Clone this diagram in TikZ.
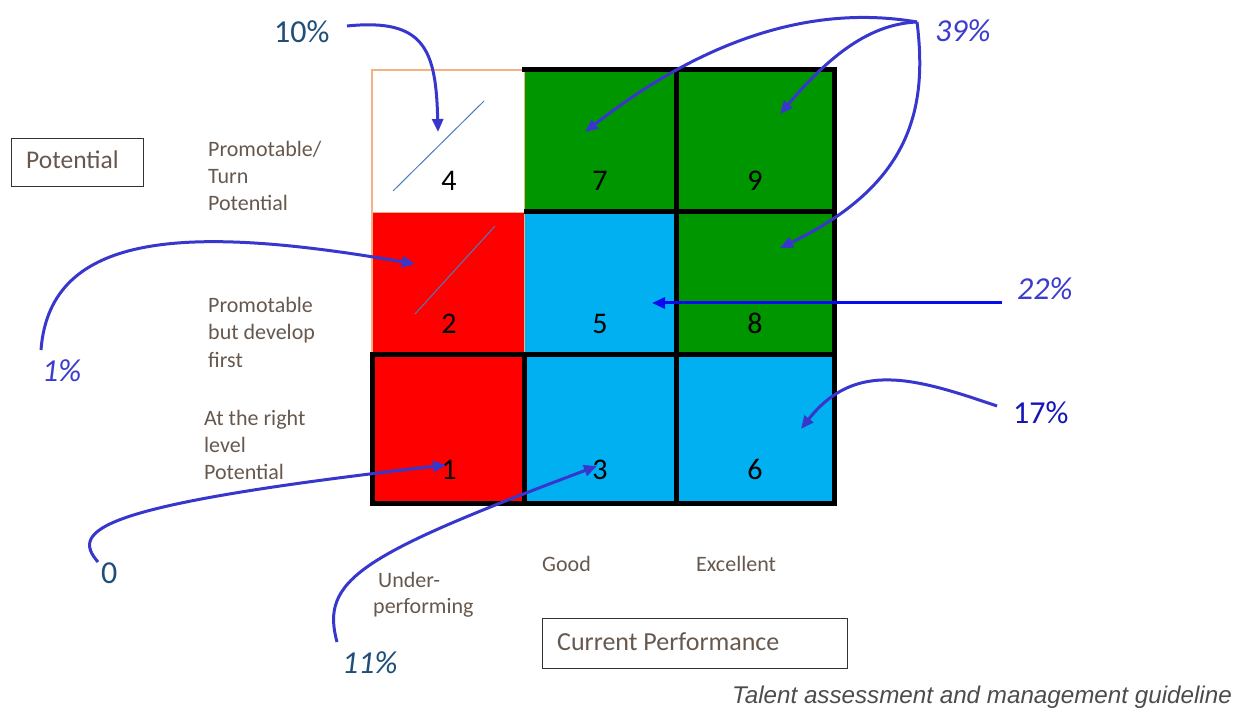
\documentclass[tikz,border=0pt]{standalone}
\usepackage{fontspec}
\setmainfont{Carlito}
\newfontfamily\capfont{Liberation Sans}
\usetikzlibrary{arrows.meta}
\definecolor{cgreen}{RGB}{0,150,0}
\definecolor{cred}{RGB}{255,0,0}
\definecolor{cblue}{RGB}{0,176,240}
\definecolor{corange}{RGB}{244,177,131}
\definecolor{carrow}{RGB}{55,55,205}
\definecolor{cpure}{RGB}{10,10,240}
\definecolor{ctext}{RGB}{103,88,78}
\definecolor{cdark}{RGB}{31,78,121}
\definecolor{cpct}{RGB}{60,60,205}
\definecolor{cseventeen}{RGB}{20,20,185}
\definecolor{cdiag}{RGB}{74,126,187}
\begin{document}
\begin{tikzpicture}[x=1pt,y=-1pt,
  cellbox/.style={draw=none,inner sep=0pt,minimum width=152pt,minimum height=142pt},
  digit/.style={font=\fontsize{30}{36}\selectfont,inner sep=0pt,anchor=base},
  lbl/.style={font=\fontsize{22}{27}\selectfont,text=ctext,inner sep=0pt,anchor=base west},
  pct/.style={font=\fontsize{32}{38}\selectfont,inner sep=0pt,anchor=base west},
  conn/.style={carrow,line width=3pt,-{Triangle[length=13pt,width=11pt]}},
  thick black/.style={black,line width=5pt},
  framebox/.style={draw=black!80,line width=1.2pt,inner sep=0pt}
]
\useasboundingbox (0,0) rectangle (1236,708);
% cells
\node[cellbox,fill=white,anchor=north west] (c4) at (372,70) {};
\node[cellbox,fill=cred,anchor=north west] (c2) at (372,212) {};
\node[cellbox,fill=cred,minimum height=149pt,anchor=north west] (c1) at (372,354) {};
\node[cellbox,fill=cgreen,anchor=north west] (c7) at (524,70) {};
\node[cellbox,fill=cblue,anchor=north west] (c5) at (524,212) {};
\node[cellbox,fill=cblue,minimum height=149pt,anchor=north west] (c3) at (524,354) {};
\node[cellbox,fill=cgreen,minimum width=158pt,anchor=north west] (c9) at (676,70) {};
\node[cellbox,fill=cgreen,minimum width=158pt,anchor=north west] (c8) at (676,212) {};
\node[cellbox,fill=cblue,minimum width=158pt,minimum height=149pt,anchor=north west] (c6) at (676,354) {};
% orange outlines
\draw[corange,line width=1.5pt] (c4.south west) rectangle (c4.north east);
\draw[corange,line width=1.2pt] (c2.north west) -- (c2.south west) (c2.north east) -- (c2.south east);
% black grid lines
\draw[thick black] (522,70) -- (836.5,70);
\draw[thick black] (524,212) -- (834,212);
\draw[thick black] (369.5,354) -- (836.5,354);
\draw[thick black] (369.5,503) -- (836.5,503);
\draw[thick black] (372,354) -- (372,505.5);
\draw[thick black] (524,354) -- (524,503);
\draw[thick black] (676,70) -- (676,503);
\draw[thick black] (834,67.5) -- (834,505.5);
% diagonal lines
\draw[cdiag,line width=1pt] (393,191) -- (484,101);
\draw[cdiag,line width=1pt] (415,314) -- (495,226);
% digits
\node[digit] (n4) at (449,191) {4};
\node[digit] (n7) at (600,191) {7};
\node[digit] (n9) at (755,191) {9};
\node[digit] (n2) at (449,334) {2};
\node[digit] (n5) at (600,334) {5};
\node[digit] (n8) at (755,334) {8};
\node[digit] (n1) at (449,479) {1};
\node[digit] (n3) at (600,479) {3};
\node[digit] (n6) at (755,479) {6};
% axis boxes
\node[framebox,minimum width=132pt,minimum height=48pt,anchor=north west] (potbox) at (11,138) {};
\node[lbl,font=\fontsize{25.5}{30}\selectfont] (pottxt) at (26,169) {Potential};
\node[framebox,minimum width=305pt,minimum height=50pt,anchor=north west] (perfbox) at (542,618) {};
\node[lbl,font=\fontsize{26}{30}\selectfont] (perftxt) at (557,650) {Current Performance};
% row labels
\node[lbl] (r3a) at (208,157) {Promotable/};
\node[lbl] (r3b) at (208,184) {Turn};
\node[lbl] (r3c) at (208,211) {Potential};
\node[lbl] (r2a) at (208,313) {Promotable};
\node[lbl] (r2b) at (208,340) {but develop};
\node[lbl] (r2c) at (208,367) {first};
\node[lbl] (r1a) at (204,425) {At the right};
\node[lbl] (r1b) at (204,452) {level};
\node[lbl] (r1c) at (204,479) {Potential};
% column labels
\node[lbl] (col1a) at (378,587) {Under-};
\node[lbl] (col1b) at (373,613) {performing};
\node[lbl] (col2) at (542,571) {Good};
\node[lbl] (col3) at (696,571) {Excellent};
% percent labels
\node[pct,text=cdark] (p10) at (274,43) {10\%};
\node[pct,text=cpct,font=\fontsize{32}{38}\selectfont\itshape] (p39) at (935,42) {39\%};
\node[pct,text=cpct,font=\fontsize{32}{38}\selectfont\itshape] (p22) at (1017,300) {22\%};
\node[pct,text=cpct,font=\fontsize{32}{38}\selectfont\itshape] (p1) at (42,381) {1\%};
\node[pct,text=cdark] (p0) at (101,583) {0};
\node[pct,text=cdark,font=\fontsize{32}{38}\selectfont\itshape] (p11) at (342,673) {11\%};
\node[pct,text=cseventeen] (p17) at (1013,423) {17\%};
% connector end points
\coordinate (s10) at (347,26);
\coordinate (t10) at (438,132);
\coordinate (s39) at (917,22);
\coordinate (t7) at (585,132);
\coordinate (t9) at (780,114);
\coordinate (t8) at (780,248);
\coordinate (s1) at (41,350);
\coordinate (t2) at (415,264);
\coordinate (s22) at (1002,303);
\coordinate (t5) at (652,303);
\coordinate (s17) at (997,406);
\coordinate (t6) at (801,429);
\coordinate (s0) at (98,562);
\coordinate (t1) at (446,465);
\coordinate (s11) at (337,642);
\coordinate (t3) at (597,466);
% connectors
\draw[conn] (s10) .. controls (425,18) and (436,50) .. (t10);
\draw[conn] (s39) .. controls (800,2) and (690,50) .. (t7);
\draw[conn] (s39) .. controls (870,24) and (830,55) .. (t9);
\draw[conn] (s39) .. controls (928,110) and (910,185) .. (t8);
\draw[conn] (s1) .. controls (50,230) and (190,225) .. (t2);
\draw[conn,cpure] (s22) -- (t5);
\draw[conn] (s17) .. controls (915,378) and (855,360) .. (t6);
\draw[conn] (s0) .. controls (70,530) and (95,505) .. (t1);
\draw[conn] (s11) .. controls (320,580) and (360,555) .. (t3);
% caption
\node[inner sep=0pt,anchor=base east,text=black!70,font=\capfont\itshape\fontsize{24.2}{28}\selectfont] (cap) at (1232,703) {Talent assessment and management guideline};
\end{tikzpicture}
\end{document}
